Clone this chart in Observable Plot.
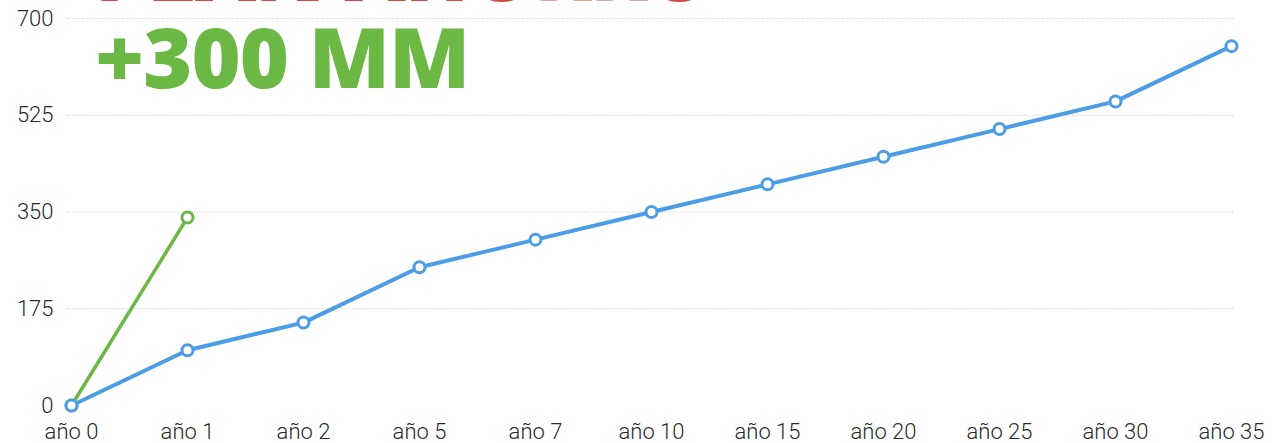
<!DOCTYPE html>
<html>
<head>
<meta charset="utf-8">
<script src="https://cdn.jsdelivr.net/npm/d3@7"></script>
<script src="https://cdn.jsdelivr.net/npm/@observablehq/plot@0.6"></script>
<style>
  html, body { margin: 0; padding: 0; background: #fff; }
  #wrap { position: relative; width: 1274px; height: 443px; overflow: hidden; }
  .big { position: absolute; font-family: "Open Sans", sans-serif; font-weight: 800; font-size: 84px; line-height: 1; white-space: nowrap; letter-spacing: -1px; }
  #red { left: 95px; top: -73px; color: #d14a3e; }
  #green { left: 95px; top: 14px; color: #6bb844; }
</style>
</head>
<body>
<div id="wrap">
  <div id="chart"></div>
  <div class="big" id="red">PLAN AHORRO</div>
  <div class="big" id="green">+300 MM</div>
</div>
<script>
const years = ["año 0","año 1","año 2","año 5","año 7","año 10","año 15","año 20","año 25","año 30","año 35"];
const blueValues = [0, 100, 150, 250, 300, 350, 400, 450, 500, 550, 650];
const greenYears = ["año 0","año 1"];
const greenValues = [0, 340];
const yTicks = [0, 175, 350, 525, 700];

const blue = years.map((y, i) => ({year: y, value: blueValues[i]}));
const green = greenYears.map((y, i) => ({year: y, value: greenValues[i]}));

const font = "Roboto, 'Liberation Sans', Helvetica, Arial, sans-serif";

const chart = Plot.plot({
  width: 1274,
  height: 443,
  marginLeft: 67,
  marginRight: 40,
  marginTop: 18,
  marginBottom: 38,
  style: {fontFamily: font, fontWeight: 300, background: "transparent"},
  x: {type: "point", domain: years, padding: 0, axis: null},
  y: {domain: [0, 700], axis: null},
  marks: [
    Plot.ruleY(yTicks.filter(d => d > 0), {stroke: "#c8c8c8", strokeWidth: 1, strokeDasharray: "1,1.5"}),
    Plot.ruleY([0], {x1: years[0], x2: years[9], stroke: "#9a9a9a", strokeWidth: 1.5}),
    Plot.axisY(yTicks, {tickSize: 0, tickPadding: 14, fontSize: 22, fontWeight: 300, fill: "#2a2a2a", stroke: null, label: null}),
    Plot.axisX({tickSize: 0, tickPadding: 18, fontSize: 22, fontWeight: 300, fill: "#2a2a2a", stroke: null, label: null}),
    Plot.line(green, {x: "year", y: "value", stroke: "#6bb844", strokeWidth: 3.5}),
    Plot.line(blue, {x: "year", y: "value", stroke: "#4b9de6", strokeWidth: 4}),
    Plot.dot(green, {x: "year", y: "value", r: 5.5, stroke: "#6bb844", strokeWidth: 3, fill: "#fff"}),
    Plot.dot(blue, {x: "year", y: "value", r: 5.5, stroke: "#4b9de6", strokeWidth: 3, fill: "#fff"})
  ]
});
document.getElementById("chart").appendChild(chart);
</script>
</body>
</html>
